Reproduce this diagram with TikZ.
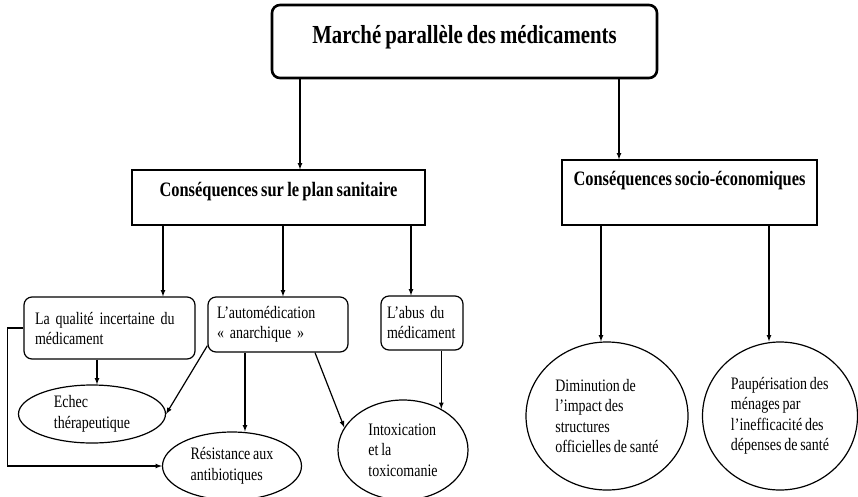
\documentclass[tikz,border=0pt]{standalone}
\usepackage{fontspec}
\setmainfont{Liberation Serif}[FakeStretch=0.8,WordSpace=0.8]
\usetikzlibrary{shapes.geometric}

\begin{document}
\begin{tikzpicture}[x=1pt,y=-1pt,
	line width=1.2pt,
	arr/.style={-latex,line width=1.2pt},
	topbox/.style={draw,rounded corners=8pt,line width=2.6pt,anchor=base,inner sep=0pt,
	  font=\fontsize{26}{30}\selectfont\bfseries},
	headbox/.style={draw,anchor=base,inner sep=0pt,font=\fontsize{20.5}{24}\selectfont\bfseries},
	smallbox/.style={draw,rounded corners=8pt,align=left,inner ysep=0pt,
	  font=\fontsize{17.5}{20}\selectfont},
	oval/.style={draw,ellipse,align=left,inner sep=0pt,
	  font=\fontsize{17.5}{20.5}\selectfont}]

	\useasboundingbox (0,0) rectangle (858,496);

	% top
	\node[topbox,minimum width=385pt,text height=38pt,text depth=35pt]
	  (marche) at (464.5,43) {Marché parallèle des médicaments};

	% the two consequences
	\node[headbox,minimum width=293pt,text height=26pt,text depth=29pt]
	  (sanit) at (278.5,196) {Conséquences sur le plan sanitaire};
	\node[headbox,minimum width=255pt,text height=25pt,text depth=40pt]
	  (socio) at (689.5,185) {Conséquences socio-économiques};

	\draw[arr] (marche.south -| 300,0) -- (sanit.north -| 300,0);
	\draw[arr] (marche.south -| 619,0) -- (socio.north -| 619,0);

	% sanitary side
	\node[smallbox,text width=149pt,inner xsep=11pt,minimum height=62pt]
	  (qual) at (109.5,328) {La qualité incertaine du\\médicament};
	\node[smallbox,text width=122pt,inner xsep=9pt,minimum height=55pt]
	  (autom) at (278,324.5) {L'automédication\\« anarchique »};
	\node[smallbox,text width=70pt,inner xsep=6pt,minimum height=54pt]
	  (abus) at (422,323) {L'abus du\\médicament};

	\draw[arr] (sanit.south -| 163,0) -- (qual.north -| 163,0);
	\draw[arr] (sanit.south -| 283,0) -- (autom.north -| 283,0);
	\draw[arr] (sanit.south -| 411,0) -- (abus.north -| 411,0);

	\node[oval,minimum width=147pt,minimum height=58pt]
	  (echec) at (92,414) {Echec\\thérapeutique};
	\node[oval,minimum width=139pt,minimum height=68pt]
	  (resist) at (232,466) {Résistance aux\\antibiotiques};
	\node[oval,minimum width=130pt,minimum height=100pt]
	  (intox) at (403,450) {Intoxication\\et la\\toxicomanie};

	\draw[arr] (qual.south -| 97,0) -- (echec.north -| 97,0);
	\draw[arr] (qual.west) -- ++(-16,0) |- (resist.west);
	\draw[arr] ([yshift=7pt]autom.south west) -- (echec.east);
	\draw[arr] (autom.south -| 245,0) -- (resist.north -| 245,0);
	\draw[arr] (autom.south -| 315,0) -- (intox.159);
	\draw[arr] (abus.south -| intox.47) -- (intox.47);

	% socio-economic side
	\node[oval,minimum width=162pt,minimum height=148pt]
	  (dimin) at (607,416)
	  {Diminution de\\l'impact des\\structures\\officielles de santé};
	\node[oval,minimum width=155pt,minimum height=148pt]
	  (paup) at (780,416)
	  {Paupérisation des\\ménages par\\l'inefficacité des\\dépenses de santé};

	\draw[arr] (socio.south -| 601,0) -- (dimin.north -| 601,0);
	\draw[arr] (socio.south -| 769,0) -- (paup.north -| 769,0);

\end{tikzpicture}
\end{document}
